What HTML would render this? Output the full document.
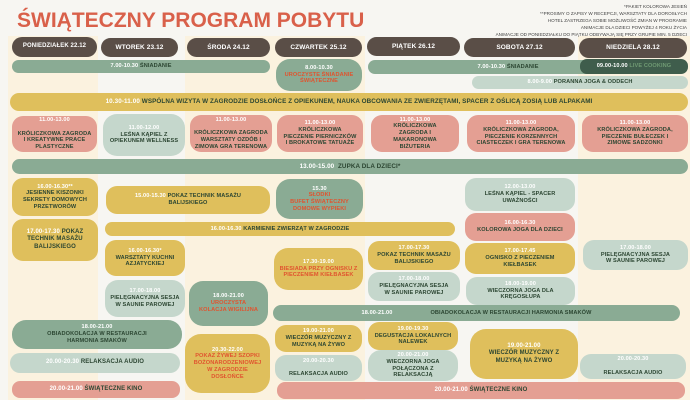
<!DOCTYPE html>
<html><head><meta charset="utf-8"><style>
*{margin:0;padding:0;box-sizing:border-box}
body{width:690px;height:400px;position:relative;overflow:hidden;background:#f7f6f2;font-family:"Liberation Sans",sans-serif}
.col{position:absolute;top:36px;height:364px}
.b{position:absolute;display:flex;flex-direction:column;align-items:center;justify-content:center;text-align:center;font-weight:bold;font-size:5.6px;line-height:1.2;color:#2c4632;border-radius:11px;letter-spacing:.1px}
.b i{font-style:normal;color:#fff}
.r{color:#e0542f}
.h{background:#5a4e47;color:#fff;font-size:6.5px;border-radius:10px}
.g{background:#8aab94}
.l{background:#c5d7cc}
.m{background:#dfbf5c}
.p{background:#e49f93}
.d{background:#3f5d4c}
.row{flex-direction:row}
</style></head><body>
<div class="col" style="left:8px;width:90px;background:#fbf2df"></div>
<div class="col" style="left:185px;width:88px;background:#fbf2df"></div>
<div class="col" style="left:273px;width:92px;background:#fbf2df"></div>
<div class="col" style="left:578px;width:112px;background:#fbf2df"></div>

<div style="position:absolute;left:17px;top:9px;font-size:21px;font-weight:bold;color:#d9604a;white-space:nowrap">ŚWIĄTECZNY PROGRAM POBYTU</div>
<div style="position:absolute;right:3px;top:3px;text-align:right;font-size:4.6px;line-height:7px;color:#444">*PAKIET KOLOROWA JESIEŃ<br>**PROSIMY O ZAPISY W RECEPCJI, WARSZTATY DLA DOROSŁYCH<br>HOTEL ZASTRZEGA SOBIE MOŻLIWOŚĆ ZMIAN W PROGRAMIE<br>ANIMACJE DLA DZIECI POWYŻEJ 4 ROKU ŻYCIA<br>ANIMACJE OD PONIEDZIAŁKU DO PIĄTKU ODBYWAJĄ SIĘ PRZY GRUPIE MIN. 5 DZIECI</div>

<div class="b h" style="left:12px;top:37px;width:85px;height:20px;font-size:6px">PONIEDZIAŁEK 22.12</div>
<div class="b h" style="left:101px;top:38px;width:77px;height:19px">WTOREK 23.12</div>
<div class="b h" style="left:187px;top:38px;width:83px;height:19px">ŚRODA 24.12</div>
<div class="b h" style="left:275px;top:38px;width:87px;height:19px">CZWARTEK 25.12</div>
<div class="b h" style="left:367px;top:37px;width:93px;height:19px">PIĄTEK 26.12</div>
<div class="b h" style="left:464px;top:38px;width:111px;height:19px">SOBOTA 27.12</div>
<div class="b h" style="left:579px;top:38px;width:108px;height:20px">NIEDZIELA 28.12</div>

<div class="b g row" style="left:12px;top:60px;width:258px;height:13px;border-radius:7px"><i>7.00-10.30&nbsp;</i>ŚNIADANIE</div>
<div class="b g" style="left:276px;top:59px;width:86px;height:32px;border-radius:14px"><i>8.00-10.30</i><span class="r">UROCZYSTE ŚNIADANIE<br>ŚWIĄTECZNE</span></div>
<div class="b g row" style="left:368px;top:60px;width:280px;height:14px;border-radius:7px"><i>7.00-10.30&nbsp;</i>ŚNIADANIE</div>
<div class="b d row" style="left:580px;top:59px;width:108px;height:15px;border-radius:7px;color:#6f9a73"><i>09.00-10.00&nbsp;</i>LIVE COOKING</div>
<div class="b l row" style="left:472px;top:76px;width:216px;height:13px;border-radius:7px"><i>8.00-9.00&nbsp;</i>PORANNA JOGA &amp; ODDECH</div>

<div class="b m row" style="left:10px;top:93px;width:678px;height:18px;border-radius:9px;font-size:6.3px"><i>10.30-11.00&nbsp;</i>WSPÓLNA WIZYTA W ZAGRODZIE DOSŁOŃCE Z OPIEKUNEM, NAUKA OBCOWANIA ZE ZWIERZĘTAMI, SPACER Z OŚLICĄ ZOSIĄ LUB ALPAKAMI</div>

<div class="b p" style="left:12px;top:116px;width:85px;height:36px"><i>11.00-13.00</i><br>KRÓLICZKOWA ZAGRODA<br>I KREATYWNE PRACE<br>PLASTYCZNE</div>
<div class="b l" style="left:103px;top:114px;width:82px;height:42px;border-radius:14px"><i>11.00-12.00</i>LEŚNA KĄPIEL Z<br>OPIEKUNEM WELLNESS</div>
<div class="b p" style="left:190px;top:115px;width:82px;height:37px"><i>11.00-13.00</i><br>KRÓLICZKOWA ZAGRODA<br>WARSZTATY OZDÓB I<br>ZIMOWA GRA TERENOWA</div>
<div class="b p" style="left:277px;top:115px;width:86px;height:37px"><i>11.00-13.00</i>KRÓLICZKOWA<br>PIECZENIE PIERNICZKÓW<br>I BROKATOWE TATUAŻE</div>
<div class="b p" style="left:371px;top:115px;width:88px;height:37px"><i>11.00-13.00</i>KRÓLICZKOWA<br>ZAGRODA I<br>MAKARONOWA<br>BIŻUTERIA</div>
<div class="b p" style="left:467px;top:115px;width:108px;height:37px"><i>11.00-13.00</i>KRÓLICZKOWA ZAGRODA,<br>PIECZENIE KORZENNYCH<br>CIASTECZEK I GRA TERENOWA</div>
<div class="b p" style="left:582px;top:115px;width:106px;height:37px"><i>11.00-13.00</i>KRÓLICZKOWA ZAGRODA,<br>PIECZENIE BUŁECZEK I<br>ZIMOWE SADZONKI</div>

<div class="b g row" style="left:12px;top:159px;width:676px;height:15px;border-radius:8px;font-size:6.3px"><i>13.00-15.00&nbsp;&nbsp;</i>ZUPKA DLA DZIECI*</div>

<div class="b m" style="left:12px;top:178px;width:86px;height:38px"><i>16.00-16.30**</i>JESIENNE KISZONKI<br>SEKRETY DOMOWYCH<br>PRZETWORÓW</div>
<div class="b m" style="left:12px;top:219px;width:86px;height:42px;font-size:6px"><span><i>17.00-17.30 </i>POKAZ<br>TECHNIK MASAŻU<br>BALIJSKIEGO</span></div>
<div class="b m" style="left:106px;top:186px;width:164px;height:28px"><span><i>15.00-15.30 </i>POKAZ TECHNIK MASAŻU<br>BALIJSKIEGO</span></div>
<div class="b g" style="left:276px;top:179px;width:87px;height:40px;border-radius:14px"><i>15.30</i><span class="r">SŁODKI<br>BUFET ŚWIĄTECZNY<br>DOMOWE WYPIEKI</span></div>
<div class="b m row" style="left:105px;top:222px;width:350px;height:14px;border-radius:7px"><i>16.00-16.30&nbsp;</i>KARMIENIE ZWIERZĄT W ZAGRODZIE</div>
<div class="b l" style="left:465px;top:178px;width:110px;height:33px"><i>12.00-13.00</i>LEŚNA KĄPIEL - SPACER<br>UWAŻNOŚCI</div>
<div class="b p" style="left:465px;top:213px;width:110px;height:28px"><i>16.00-16.30</i>KOLOROWA JOGA DLA DZIECI</div>
<div class="b m" style="left:465px;top:243px;width:110px;height:31px"><i>17.00-17.45</i>OGNISKO Z PIECZENIEM<br>KIEŁBASEK</div>
<div class="b l" style="left:466px;top:277px;width:109px;height:28px"><i>18.00-19.00</i>WIECZORNA JOGA DLA<br>KRĘGOSŁUPA</div>

<div class="b m" style="left:105px;top:240px;width:80px;height:36px"><i>16.00-16.30*</i>WARSZTATY KUCHNI<br>AZJATYCKIEJ</div>
<div class="b l" style="left:105px;top:280px;width:80px;height:37px;border-radius:13px"><i>17.00-18.00</i>PIELĘGNACYJNA SESJA<br>W SAUNIE PAROWEJ</div>
<div class="b g" style="left:189px;top:281px;width:79px;height:45px;border-radius:14px"><i>18.00-21.00</i><span class="r">UROCZYSTA<br>KOLACJA WIGILIJNA</span></div>
<div class="b m" style="left:274px;top:248px;width:89px;height:42px;border-radius:14px"><i>17.30-19.00</i><span class="r">BIESIADA PRZY OGNISKU Z<br>PIECZENIEM KIEŁBASEK</span></div>
<div class="b m" style="left:368px;top:241px;width:92px;height:29px"><i>17.00-17.30</i>POKAZ TECHNIK MASAŻU<br>BALIJSKIEGO</div>
<div class="b l" style="left:368px;top:272px;width:92px;height:29px"><i>17.00-18.00</i>PIELĘGNACYJNA SESJA<br>W SAUNIE PAROWEJ</div>
<div class="b l" style="left:583px;top:240px;width:105px;height:30px"><i>17.00-18.00</i>PIELĘGNACYJNA SESJA<br>W SAUNIE PAROWEJ</div>

<div class="b g" style="left:12px;top:320px;width:170px;height:29px;border-radius:14px"><i>18.00-21.00</i>OBIADOKOLACJA W RESTAURACJI<br>HARMONIA SMAKÓW</div>
<div class="b l row" style="left:10px;top:353px;width:170px;height:20px;border-radius:10px;font-size:6px"><i>20.00-20.30&nbsp;</i>RELAKSACJA AUDIO</div>
<div class="b p row" style="left:12px;top:381px;width:168px;height:17px;border-radius:8px;font-size:6px"><i>20.00-21.00&nbsp;</i>ŚWIĄTECZNE KINO</div>
<div class="b m" style="left:185px;top:334px;width:85px;height:59px;border-radius:16px"><i>20.30-22.00</i><span class="r">POKAZ ŻYWEJ SZOPKI<br>BOŻONARODZENIOWEJ<br>W ZAGRODZIE<br>DOSŁOŃCE</span></div>

<div class="b g row" style="left:273px;top:305px;width:407px;height:16px;border-radius:8px"><i>18.00-21.00</i><span style="margin-left:38px">OBIADOKOLACJA W RESTAURACJI HARMONIA SMAKÓW</span></div>
<div class="b m" style="left:275px;top:325px;width:87px;height:27px"><i>19.00-21.00</i>WIECZÓR MUZYCZNY Z<br>MUZYKĄ NA ŻYWO</div>
<div class="b l" style="left:275px;top:355px;width:87px;height:26px"><i>20.00-20.30</i><br>RELAKSACJA AUDIO</div>
<div class="b m" style="left:368px;top:322px;width:90px;height:28px"><i>19.00-19.30</i>DEGUSTACJA LOKALNYCH<br>NALEWEK</div>
<div class="b l" style="left:368px;top:350px;width:90px;height:31px;border-radius:13px"><i>20.00-21.00</i>WIECZORNA JOGA<br>POŁĄCZONA Z<br>RELAKSACJĄ</div>
<div class="b m" style="left:470px;top:329px;width:108px;height:50px;border-radius:16px;font-size:6px"><i>19.00-21.00</i>WIECZÓR MUZYCZNY Z<br>MUZYKĄ NA ŻYWO</div>
<div class="b l" style="left:580px;top:354px;width:106px;height:25px"><i>20.00-20.30</i><br>RELAKSACJA AUDIO</div>
<div class="b p row" style="left:277px;top:382px;width:408px;height:17px;border-radius:8px;font-size:6px"><i>20.00-21.00&nbsp;</i>ŚWIĄTECZNE KINO</div>
</body></html>
